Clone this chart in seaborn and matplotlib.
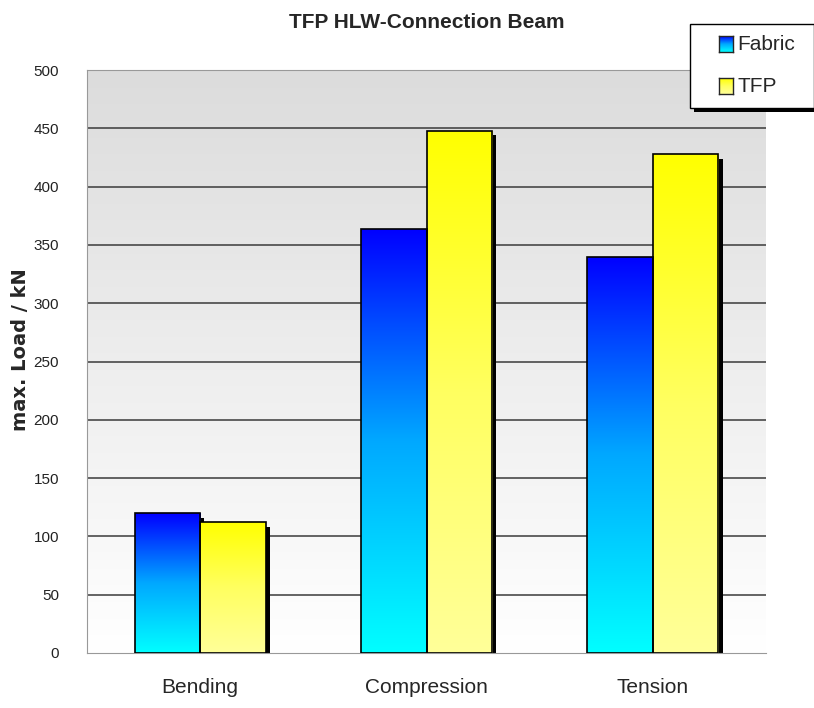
import numpy as np
import pandas as pd
import matplotlib
matplotlib.use("Agg")
import matplotlib.pyplot as plt
from matplotlib.patches import Rectangle
from matplotlib.colors import LinearSegmentedColormap
import seaborn as sns

# values
categories = ["Bending", "Compression", "Tension"]
fabric = [120, 364, 340]
tfp = [112, 448, 428]
series = ["Fabric", "TFP"]

df = pd.DataFrame({
    "test": categories * 2,
    "load": fabric + tfp,
    "material": ["Fabric"] * 3 + ["TFP"] * 3,
})

sns.set_style("white")
plt.rcParams['font.family'] = ['Liberation Sans', 'DejaVu Sans']

fig = plt.figure(figsize=(8.14, 7.08), dpi=100)
ax = fig.add_axes([87 / 814, 1 - 653 / 708, (766 - 87) / 814, (653 - 70) / 708])

sns.barplot(data=df, x="test", y="load", hue="material", ax=ax,
            width=0.58, gap=0, dodge=True, legend=False,
            palette=["#0000ff", "#ffff00"], edgecolor="black", linewidth=1.2)

ax.set_ylim(0, 500)
ax.set_xlim(-0.5, 2.5)

# background gradient grey -> white
bg = np.linspace(0, 1, 256).reshape(-1, 1)
bg_cmap = LinearSegmentedColormap.from_list("bg", ["#ffffff", "#dcdcdc"])
ax.imshow(bg, aspect="auto", cmap=bg_cmap, extent=[-0.5, 2.5, 0, 500],
          origin="lower", zorder=0)

# horizontal grid lines (not at 0 or 500)
for yv in range(50, 500, 50):
    ax.axhline(yv, color="#3a3a3a", linewidth=1.1, zorder=0.5)

cmaps = {
    "Fabric": LinearSegmentedColormap.from_list("fab", ["#00ffff", "#00a8ff", "#0000ff"]),
    "TFP": LinearSegmentedColormap.from_list("tfp", ["#ffff99", "#ffff60", "#ffff00"]),
}

grad = np.linspace(0, 1, 256).reshape(-1, 1)
for i, p in enumerate(ax.patches):
    name = series[i // 3]
    x0, y0 = p.get_x(), p.get_y()
    w, h = p.get_width(), p.get_height()
    # shadow
    sh = Rectangle((x0 + 0.018, y0), w, h - 4, facecolor="black",
                   edgecolor="none", zorder=1)
    ax.add_patch(sh)
    im = ax.imshow(grad, aspect="auto", cmap=cmaps[name],
                   extent=[x0, x0 + w, y0, y0 + h], origin="lower", zorder=2)
    im.set_clip_path(p)
    p.set_facecolor("none")
    p.set_zorder(3)

ax.set_xlim(-0.5, 2.5)
ax.set_ylim(0, 500)
ax.set_yticks(range(0, 501, 50))
ax.set_xlabel("")
ax.set_ylabel("max. Load / kN", fontsize=14, fontweight="bold",
              family=["DejaVu Sans"])
ax.yaxis.set_label_coords(-57 / 679, 0.52)
ax.tick_params(axis="y", labelsize=11, labelcolor="#222222", pad=20, length=0)
ax.tick_params(axis="x", labelsize=15, pad=18, length=0)

ax.spines["right"].set_visible(False)
for s in ["left", "bottom", "top"]:
    ax.spines[s].set_color("#999999")

fig.text(427 / 814, 1 - 22 / 708, "TFP HLW-Connection Beam", ha="center",
         va="center", fontsize=15, fontweight="bold")

# legend box with shadow
lx0, ly0, lw, lh = 690 / 814, 1 - 108 / 708, 124 / 814, 84 / 708
fig.patches.append(Rectangle((lx0 + 4 / 814, ly0 - 4 / 708), lw, lh,
                             transform=fig.transFigure, facecolor="black",
                             edgecolor="none", zorder=5))
fig.patches.append(Rectangle((lx0, ly0), lw, lh, transform=fig.transFigure,
                             facecolor="white", edgecolor="black",
                             linewidth=1, zorder=6))
for j, name in enumerate(series):
    yc = 1 - (45 + j * 42) / 708
    kax = fig.add_axes([719 / 814, yc - 7 / 708, 14 / 814, 16 / 708], zorder=7)
    kax.imshow(grad, aspect="auto", cmap=cmaps[name], origin="lower")
    kax.set_xticks([])
    kax.set_yticks([])
    for s in kax.spines.values():
        s.set_linewidth(1)
    fig.text(737 / 814, yc, name, fontsize=15, va="center", ha="left", zorder=8)

fig.savefig("out.png", dpi=100)
